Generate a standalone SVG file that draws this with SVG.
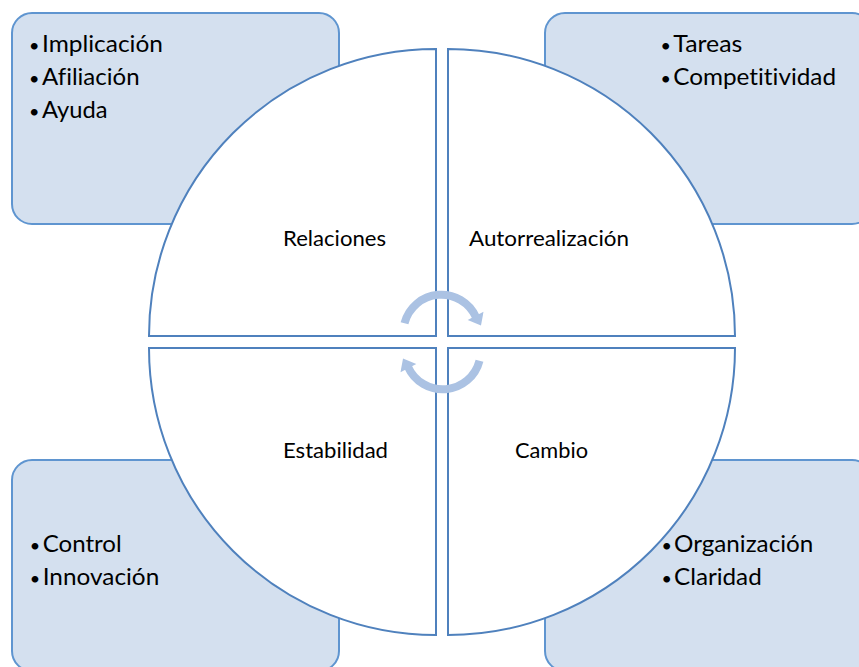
<svg xmlns="http://www.w3.org/2000/svg" width="859" height="667" viewBox="0 0 859 667">
<style>
.box{fill:#D4E0EF;stroke:#5F95D0;stroke-width:2}
.quad{fill:#FFFFFF;stroke:#4F81BD;stroke-width:2}
.lbl{font-family:Lato,"Liberation Sans",sans-serif;font-size:21px;fill:#000;font-variant-ligatures:none}
.bul{font-family:Lato,"Liberation Sans",sans-serif;font-size:24px;fill:#000;font-variant-ligatures:none}
.dot{font-size:18px}
.arc{fill:none;stroke:#ABC2E3;stroke-width:8}
.head{fill:#ABC2E3}
</style>
<rect width="859" height="667" fill="#FFFFFF"/>
<g id="box-tl"><rect class="box" x="12" y="13" width="327" height="211" rx="20"/>
<text class="bul"><tspan class="dot" x="29" y="52">•</tspan><tspan x="42" y="52" textLength="121" lengthAdjust="spacingAndGlyphs">Implicación</tspan></text>
<text class="bul"><tspan class="dot" x="29" y="85">•</tspan><tspan x="42" y="85" textLength="97.6" lengthAdjust="spacingAndGlyphs">Afiliación</tspan></text>
<text class="bul"><tspan class="dot" x="29" y="118">•</tspan><tspan x="42" y="118" textLength="65.6" lengthAdjust="spacingAndGlyphs">Ayuda</tspan></text>
</g>
<g id="box-tr"><rect class="box" x="545" y="13" width="327" height="211" rx="20"/>
<text class="bul"><tspan class="dot" x="660.5" y="52">•</tspan><tspan x="673.3" y="52" textLength="69" lengthAdjust="spacingAndGlyphs">Tareas</tspan></text>
<text class="bul"><tspan class="dot" x="660.5" y="85">•</tspan><tspan x="673.3" y="85" textLength="162.7" lengthAdjust="spacingAndGlyphs">Competitividad</tspan></text>
</g>
<g id="box-bl"><rect class="box" x="12" y="460" width="327" height="211" rx="20"/>
<text class="bul"><tspan class="dot" x="29.7" y="552">•</tspan><tspan x="42.7" y="552" textLength="79" lengthAdjust="spacingAndGlyphs">Control</tspan></text>
<text class="bul"><tspan class="dot" x="29.7" y="585">•</tspan><tspan x="42.7" y="585" textLength="116.6" lengthAdjust="spacingAndGlyphs">Innovación</tspan></text>
</g>
<g id="box-br"><rect class="box" x="545" y="460" width="327" height="211" rx="20"/>
<text class="bul"><tspan class="dot" x="661.5" y="552">•</tspan><tspan x="674" y="552" textLength="139.3" lengthAdjust="spacingAndGlyphs">Organización</tspan></text>
<text class="bul"><tspan class="dot" x="661.5" y="585">•</tspan><tspan x="674" y="585" textLength="87.7" lengthAdjust="spacingAndGlyphs">Claridad</tspan></text>
</g>
<g id="quad-relaciones"><path class="quad" d="M436,336 L436,49 A287,287 0 0,0 149,336 Z"/>
<text class="lbl" x="283" y="246" textLength="103" lengthAdjust="spacingAndGlyphs">Relaciones</text></g>
<g id="quad-autorrealizacion"><path class="quad" d="M448,336 L448,49 A287,287 0 0,1 735,336 Z"/>
<text class="lbl" x="469" y="246" textLength="160" lengthAdjust="spacingAndGlyphs">Autorrealización</text></g>
<g id="quad-estabilidad"><path class="quad" d="M436,348 L149,348 A287,287 0 0,0 436,635 Z"/>
<text class="lbl" x="283" y="458" textLength="105" lengthAdjust="spacingAndGlyphs">Estabilidad</text></g>
<g id="quad-cambio"><path class="quad" d="M448,348 L735,348 A287,287 0 0,1 448,635 Z"/>
<text class="lbl" x="515" y="458" textLength="73" lengthAdjust="spacingAndGlyphs">Cambio</text></g>
<g id="connectors">
<g id="arrow-top"><path class="arc" d="M404.5,323.3 A38,38 0 0,1 476,317.2"/>
<polygon class="head" points="467.7,319.9 483.5,311.8 481,325.5"/></g>
<g id="arrow-bottom" transform="rotate(180 442 342)"><path class="arc" d="M404.5,323.3 A38,38 0 0,1 476,317.2"/>
<polygon class="head" points="467.7,319.9 483.5,311.8 481,325.5"/></g>
</g>
</svg>
